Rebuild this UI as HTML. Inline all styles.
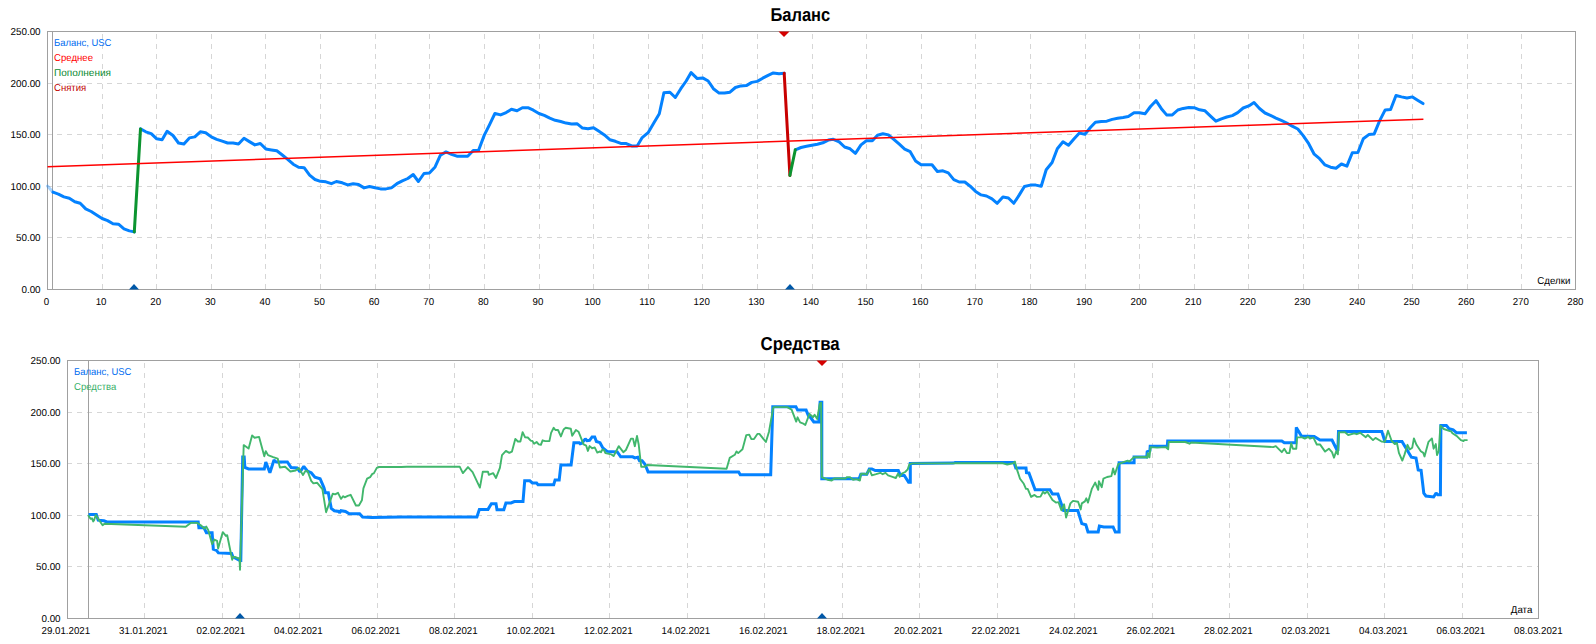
<!DOCTYPE html>
<html lang="ru"><head><meta charset="utf-8"><title>Баланс / Средства</title>
<style>
html,body{margin:0;padding:0;background:#fff;}
body{width:1596px;height:644px;overflow:hidden;font-family:"Liberation Sans", Arial, sans-serif;}
svg{display:block;}
text{font-family:"Liberation Sans", Arial, sans-serif;font-size:10px;fill:#000;text-rendering:geometricPrecision;}
.t{font-size:18.7px;font-weight:bold;fill:#000;text-anchor:middle;}
.g{stroke:#d6d6d6;stroke-width:1;stroke-dasharray:5 5;shape-rendering:crispEdges;fill:none;}
.b{stroke:#a0a0a0;stroke-width:1;shape-rendering:crispEdges;fill:none;}
.ln{fill:none;stroke-linejoin:round;stroke-linecap:round;}
.r{text-anchor:end;} .m{text-anchor:middle;} .n{font-size:9.9px;}
</style></head><body>
<svg width="1596" height="644" viewBox="0 0 1596 644">
<rect x="0" y="0" width="1596" height="644" fill="#fff"/>

<text class="t" x="800.3" y="21" textLength="59.8" lengthAdjust="spacingAndGlyphs">Баланс</text>
<line class="g" x1="102.5" y1="289" x2="102.5" y2="33" />
<line class="g" x1="156.5" y1="289" x2="156.5" y2="33" />
<line class="g" x1="211.5" y1="289" x2="211.5" y2="33" />
<line class="g" x1="265.5" y1="289" x2="265.5" y2="33" />
<line class="g" x1="320.5" y1="289" x2="320.5" y2="33" />
<line class="g" x1="375.5" y1="289" x2="375.5" y2="33" />
<line class="g" x1="429.5" y1="289" x2="429.5" y2="33" />
<line class="g" x1="484.5" y1="289" x2="484.5" y2="33" />
<line class="g" x1="539.5" y1="289" x2="539.5" y2="33" />
<line class="g" x1="593.5" y1="289" x2="593.5" y2="33" />
<line class="g" x1="648.5" y1="289" x2="648.5" y2="33" />
<line class="g" x1="702.5" y1="289" x2="702.5" y2="33" />
<line class="g" x1="757.5" y1="289" x2="757.5" y2="33" />
<line class="g" x1="812.5" y1="289" x2="812.5" y2="33" />
<line class="g" x1="866.5" y1="289" x2="866.5" y2="33" />
<line class="g" x1="921.5" y1="289" x2="921.5" y2="33" />
<line class="g" x1="975.5" y1="289" x2="975.5" y2="33" />
<line class="g" x1="1030.5" y1="289" x2="1030.5" y2="33" />
<line class="g" x1="1085.5" y1="289" x2="1085.5" y2="33" />
<line class="g" x1="1139.5" y1="289" x2="1139.5" y2="33" />
<line class="g" x1="1194.5" y1="289" x2="1194.5" y2="33" />
<line class="g" x1="1248.5" y1="289" x2="1248.5" y2="33" />
<line class="g" x1="1303.5" y1="289" x2="1303.5" y2="33" />
<line class="g" x1="1358.5" y1="289" x2="1358.5" y2="33" />
<line class="g" x1="1412.5" y1="289" x2="1412.5" y2="33" />
<line class="g" x1="1467.5" y1="289" x2="1467.5" y2="33" />
<line class="g" x1="1521.5" y1="289" x2="1521.5" y2="33" />
<line class="g" x1="47" y1="237.5" x2="1575" y2="237.5" />
<line class="g" x1="47" y1="186.5" x2="1575" y2="186.5" />
<line class="g" x1="47" y1="134.5" x2="1575" y2="134.5" />
<line class="g" x1="47" y1="83.5" x2="1575" y2="83.5" />
<rect class="b" x="47.5" y="31.5" width="1528" height="258"/>
<line class="b" x1="52.5" y1="31" x2="52.5" y2="289"/>
<text transform="translate(40.6 293.3) scale(0.985 1)" text-anchor="end">0.00</text>
<text transform="translate(40.6 241.3) scale(0.985 1)" text-anchor="end">50.00</text>
<text transform="translate(40.6 190.3) scale(0.985 1)" text-anchor="end">100.00</text>
<text transform="translate(40.6 138.3) scale(0.985 1)" text-anchor="end">150.00</text>
<text transform="translate(40.6 87.3) scale(0.985 1)" text-anchor="end">200.00</text>
<text transform="translate(40.6 35.3) scale(0.985 1)" text-anchor="end">250.00</text>
<text transform="translate(46.4 305.0) scale(0.97 1)" text-anchor="middle">0</text>
<text transform="translate(101.1 305.0) scale(0.97 1)" text-anchor="middle">10</text>
<text transform="translate(155.7 305.0) scale(0.97 1)" text-anchor="middle">20</text>
<text transform="translate(210.3 305.0) scale(0.97 1)" text-anchor="middle">30</text>
<text transform="translate(264.9 305.0) scale(0.97 1)" text-anchor="middle">40</text>
<text transform="translate(319.5 305.0) scale(0.97 1)" text-anchor="middle">50</text>
<text transform="translate(374.1 305.0) scale(0.97 1)" text-anchor="middle">60</text>
<text transform="translate(428.7 305.0) scale(0.97 1)" text-anchor="middle">70</text>
<text transform="translate(483.3 305.0) scale(0.97 1)" text-anchor="middle">80</text>
<text transform="translate(537.9 305.0) scale(0.97 1)" text-anchor="middle">90</text>
<text transform="translate(592.5 305.0) scale(0.97 1)" text-anchor="middle">100</text>
<text transform="translate(647.1 305.0) scale(0.97 1)" text-anchor="middle">110</text>
<text transform="translate(701.7 305.0) scale(0.97 1)" text-anchor="middle">120</text>
<text transform="translate(756.3 305.0) scale(0.97 1)" text-anchor="middle">130</text>
<text transform="translate(810.9 305.0) scale(0.97 1)" text-anchor="middle">140</text>
<text transform="translate(865.6 305.0) scale(0.97 1)" text-anchor="middle">150</text>
<text transform="translate(920.2 305.0) scale(0.97 1)" text-anchor="middle">160</text>
<text transform="translate(974.8 305.0) scale(0.97 1)" text-anchor="middle">170</text>
<text transform="translate(1029.4 305.0) scale(0.97 1)" text-anchor="middle">180</text>
<text transform="translate(1084.0 305.0) scale(0.97 1)" text-anchor="middle">190</text>
<text transform="translate(1138.6 305.0) scale(0.97 1)" text-anchor="middle">200</text>
<text transform="translate(1193.2 305.0) scale(0.97 1)" text-anchor="middle">210</text>
<text transform="translate(1247.8 305.0) scale(0.97 1)" text-anchor="middle">220</text>
<text transform="translate(1302.4 305.0) scale(0.97 1)" text-anchor="middle">230</text>
<text transform="translate(1357.0 305.0) scale(0.97 1)" text-anchor="middle">240</text>
<text transform="translate(1411.6 305.0) scale(0.97 1)" text-anchor="middle">250</text>
<text transform="translate(1466.2 305.0) scale(0.97 1)" text-anchor="middle">260</text>
<text transform="translate(1520.8 305.0) scale(0.97 1)" text-anchor="middle">270</text>
<text transform="translate(1575.4 305.0) scale(0.97 1)" text-anchor="middle">280</text>
<text transform="translate(1570.4 284.0) scale(0.97 1)" text-anchor="end">Сделки</text>
<text transform="translate(54.0 46.0) scale(0.945 1)" style="fill:#006cf0">Баланс, USC</text>
<text transform="translate(54.0 61.0) scale(0.96 1)" style="fill:#ff0000">Среднее</text>
<text transform="translate(54.0 76.0) scale(1.0 1)" style="fill:#088a30">Пополнения</text>
<text transform="translate(54.0 91.0) scale(0.955 1)" style="fill:#c00000">Снятия</text>
<polyline class="ln" points="47.5,186.1 53.0,192.2" stroke="#0482ff" stroke-width="3" opacity="0.35"/>
<polyline class="ln" points="53.0,192.2 58.4,194.1 63.9,196.9 69.3,198.3 74.8,201.8 80.2,203.3 85.7,208.9 91.2,211.5 96.6,215.0 102.1,218.5 107.6,220.6 113.0,223.7 118.5,224.2 124.0,228.9 129.4,230.9 134.3,231.9" stroke="#0482ff" stroke-width="3"/>
<polyline class="ln" points="140.5,128.9 145.8,131.8 151.2,133.6 156.7,138.8 162.1,139.7 167.1,131.3 173.0,135.5 178.5,143.0 183.9,144.0 189.4,137.9 194.8,136.9 200.3,131.8 205.7,132.7 211.3,136.9 216.7,139.3 222.2,141.2 227.6,143.0 233.1,143.0 238.5,144.0 244.0,138.3 249.4,141.6 254.9,144.9 260.3,143.5 265.8,148.9 271.4,149.9 276.8,150.8 282.3,155.0 287.7,159.3 293.2,164.2 298.6,167.3 304.1,167.7 309.6,175.2 315.0,179.5 320.4,181.3 325.9,181.8 331.4,183.7 336.4,181.5 342.3,182.8 347.7,184.9 353.2,183.7 358.6,184.6 364.1,187.9 369.5,186.5 375.1,187.7 380.5,188.9 386.0,188.9 391.4,187.9 396.9,183.7 402.3,180.9 407.8,178.5 413.2,174.5 418.4,181.5 424.0,173.5 429.4,173.1 435.1,166.9 440.4,155.2 446.0,151.9 451.5,154.3 456.9,156.2 462.3,156.2 467.7,156.2 473.2,150.5 478.5,150.5 484.3,135.1 489.7,124.3 494.9,113.5 500.6,114.9 506.1,112.6 511.4,109.3 517.0,110.7 522.4,107.7 527.9,107.7 533.4,110.2 538.9,113.5 544.3,115.4 549.8,118.2 555.2,120.3 560.7,121.5 566.1,123.1 571.6,124.0 577.0,123.7 582.5,128.1 588.0,128.7 593.5,127.8 599.0,131.3 604.4,134.9 609.8,139.7 615.4,141.3 620.8,143.4 626.3,143.6 631.7,145.9 637.2,145.9 642.2,137.6 648.1,132.7 653.5,123.6 659.3,113.8 663.9,92.8 669.9,92.2 675.3,97.5 680.8,88.7 686.2,81.0 691.1,72.6 697.3,78.6 702.7,77.9 708.2,81.0 713.4,88.7 719.1,93.1 724.5,93.1 730.0,92.2 735.4,87.5 740.9,85.9 746.3,85.6 751.8,82.4 757.2,81.4 762.7,78.2 768.1,75.4 773.3,72.9 779.0,73.7 784.2,73.3" stroke="#0482ff" stroke-width="3"/>
<polyline class="ln" points="795.3,149.8 801.0,147.5 806.5,146.3 811.9,145.2 817.4,144.2 822.8,142.8 828.3,140.1 833.3,139.3 839.2,141.9 844.6,147.0 850.1,148.8 855.4,153.3 861.0,144.9 866.4,140.8 872.3,140.8 877.5,135.2 882.9,133.8 888.4,134.9 893.8,139.3 899.3,144.2 904.7,149.1 910.2,151.7 915.6,161.0 921.1,164.8 926.5,164.8 932.0,164.8 937.4,171.5 942.9,170.8 948.3,172.9 953.8,179.6 959.2,182.0 964.8,182.0 970.2,186.2 975.6,191.4 981.1,194.9 986.5,196.0 992.0,198.8 997.2,203.3 1002.9,197.0 1008.4,198.0 1013.8,203.3 1019.3,194.9 1024.4,186.5 1030.3,185.1 1035.8,185.1 1041.2,186.2 1046.2,169.7 1052.1,162.5 1057.3,148.8 1063.0,141.8 1068.5,145.3 1073.9,139.0 1079.4,133.1 1085.0,134.2 1090.4,127.5 1095.4,122.2 1101.3,121.5 1106.8,121.2 1112.2,119.4 1117.7,118.3 1123.1,117.5 1128.3,116.6 1134.0,112.8 1139.5,112.8 1145.0,113.8 1150.5,106.5 1156.0,100.7 1161.4,108.7 1166.6,114.9 1172.3,114.9 1177.8,110.0 1183.2,108.4 1188.7,107.5 1194.1,107.7 1199.6,109.8 1205.0,110.8 1210.5,116.1 1215.9,121.2 1221.4,118.8 1226.8,117.0 1232.3,115.6 1237.7,112.6 1243.2,108.0 1248.8,105.9 1254.0,102.5 1259.5,108.5 1265.0,113.0 1270.4,115.3 1275.9,118.1 1281.3,120.4 1286.8,123.0 1292.2,126.2 1297.8,129.0 1303.2,135.6 1308.7,143.7 1314.2,154.2 1319.6,158.7 1325.0,164.9 1330.5,167.2 1336.0,168.2 1341.4,164.0 1346.9,166.1 1352.3,152.8 1357.9,152.5 1363.3,138.8 1368.8,134.6 1374.2,133.9 1379.7,120.6 1385.2,109.9 1390.6,109.5 1396.0,95.5 1401.5,96.9 1407.0,98.0 1412.5,96.9 1418.0,100.4 1423.0,103.6" stroke="#0482ff" stroke-width="3"/>
<polyline class="ln" points="134.3,231.9 140.5,128.9" stroke="#0c9430" stroke-width="3" stroke-linecap="butt"/>
<polyline class="ln" points="784.2,73.3 789.9,175.4" stroke="#c80000" stroke-width="3" stroke-linecap="butt"/>
<polyline class="ln" points="789.9,175.4 795.3,149.8" stroke="#0c9430" stroke-width="3" stroke-linecap="butt"/>
<line x1="47.5" y1="166.7" x2="1423.4" y2="119.2" stroke="#ff0000" stroke-width="1.5"/>
<polygon points="129,289.5 139,289.5 134,284.0" fill="#0058a8"/>
<polygon points="785,289.5 795,289.5 790,284.0" fill="#0058a8"/>
<polygon points="778.5,31.5 789.5,31.5 784,37.0" fill="#d40000"/>
<text class="t" x="800.1" y="350" textLength="79.2" lengthAdjust="spacingAndGlyphs">Средства</text>
<line class="g" x1="144.5" y1="618" x2="144.5" y2="362" />
<line class="g" x1="222.5" y1="618" x2="222.5" y2="362" />
<line class="g" x1="299.5" y1="618" x2="299.5" y2="362" />
<line class="g" x1="377.5" y1="618" x2="377.5" y2="362" />
<line class="g" x1="454.5" y1="618" x2="454.5" y2="362" />
<line class="g" x1="532.5" y1="618" x2="532.5" y2="362" />
<line class="g" x1="609.5" y1="618" x2="609.5" y2="362" />
<line class="g" x1="687.5" y1="618" x2="687.5" y2="362" />
<line class="g" x1="764.5" y1="618" x2="764.5" y2="362" />
<line class="g" x1="842.5" y1="618" x2="842.5" y2="362" />
<line class="g" x1="919.5" y1="618" x2="919.5" y2="362" />
<line class="g" x1="997.5" y1="618" x2="997.5" y2="362" />
<line class="g" x1="1074.5" y1="618" x2="1074.5" y2="362" />
<line class="g" x1="1152.5" y1="618" x2="1152.5" y2="362" />
<line class="g" x1="1229.5" y1="618" x2="1229.5" y2="362" />
<line class="g" x1="1307.5" y1="618" x2="1307.5" y2="362" />
<line class="g" x1="1384.5" y1="618" x2="1384.5" y2="362" />
<line class="g" x1="1462.5" y1="618" x2="1462.5" y2="362" />
<line class="g" x1="67" y1="566.5" x2="1538" y2="566.5" />
<line class="g" x1="67" y1="515.5" x2="1538" y2="515.5" />
<line class="g" x1="67" y1="463.5" x2="1538" y2="463.5" />
<line class="g" x1="67" y1="412.5" x2="1538" y2="412.5" />
<rect class="b" x="67.5" y="360.5" width="1471" height="258"/>
<line class="b" x1="88.5" y1="360" x2="88.5" y2="618"/>
<text transform="translate(60.6 622.3) scale(0.985 1)" text-anchor="end">0.00</text>
<text transform="translate(60.6 570.3) scale(0.985 1)" text-anchor="end">50.00</text>
<text transform="translate(60.6 519.3) scale(0.985 1)" text-anchor="end">100.00</text>
<text transform="translate(60.6 467.3) scale(0.985 1)" text-anchor="end">150.00</text>
<text transform="translate(60.6 416.3) scale(0.985 1)" text-anchor="end">200.00</text>
<text transform="translate(60.6 364.3) scale(0.985 1)" text-anchor="end">250.00</text>
<text transform="translate(65.8 634.0) scale(0.97 1)" text-anchor="middle">29.01.2021</text>
<text transform="translate(143.3 634.0) scale(0.97 1)" text-anchor="middle">31.01.2021</text>
<text transform="translate(220.8 634.0) scale(0.97 1)" text-anchor="middle">02.02.2021</text>
<text transform="translate(298.3 634.0) scale(0.97 1)" text-anchor="middle">04.02.2021</text>
<text transform="translate(375.8 634.0) scale(0.97 1)" text-anchor="middle">06.02.2021</text>
<text transform="translate(453.3 634.0) scale(0.97 1)" text-anchor="middle">08.02.2021</text>
<text transform="translate(530.8 634.0) scale(0.97 1)" text-anchor="middle">10.02.2021</text>
<text transform="translate(608.3 634.0) scale(0.97 1)" text-anchor="middle">12.02.2021</text>
<text transform="translate(685.8 634.0) scale(0.97 1)" text-anchor="middle">14.02.2021</text>
<text transform="translate(763.3 634.0) scale(0.97 1)" text-anchor="middle">16.02.2021</text>
<text transform="translate(840.8 634.0) scale(0.97 1)" text-anchor="middle">18.02.2021</text>
<text transform="translate(918.3 634.0) scale(0.97 1)" text-anchor="middle">20.02.2021</text>
<text transform="translate(995.8 634.0) scale(0.97 1)" text-anchor="middle">22.02.2021</text>
<text transform="translate(1073.3 634.0) scale(0.97 1)" text-anchor="middle">24.02.2021</text>
<text transform="translate(1150.8 634.0) scale(0.97 1)" text-anchor="middle">26.02.2021</text>
<text transform="translate(1228.3 634.0) scale(0.97 1)" text-anchor="middle">28.02.2021</text>
<text transform="translate(1305.8 634.0) scale(0.97 1)" text-anchor="middle">02.03.2021</text>
<text transform="translate(1383.3 634.0) scale(0.97 1)" text-anchor="middle">04.03.2021</text>
<text transform="translate(1460.8 634.0) scale(0.97 1)" text-anchor="middle">06.03.2021</text>
<text transform="translate(1538.3 634.0) scale(0.97 1)" text-anchor="middle">08.03.2021</text>
<text transform="translate(1532.3 613.0) scale(0.97 1)" text-anchor="end">Дата</text>
<text transform="translate(74.0 375.0) scale(0.945 1)" style="fill:#006cf0">Баланс, USC</text>
<text transform="translate(74.0 390.0) scale(0.955 1)" style="fill:#38b068">Средства</text>
<polyline class="ln" points="88.5,514.5 96.3,514.5 98.2,520.2 103.9,520.8 107.0,522.0 198.2,522.0 198.9,527.7 203.9,527.7 206.4,532.7 212.1,532.7 213.3,549.1 216.5,550.4 218.4,552.9 231.6,553.5 232.8,556.6 239.8,560.4 240.8,560.4 242.7,457.1 244.2,457.1 244.9,467.5 248.6,469.0 264.3,469.0 265.8,462.0 269.9,472.7 274.0,460.0 276.2,462.0 287.4,462.0 291.1,467.5 297.1,467.9 300.0,472.0 303.8,466.4 307.5,471.2 311.2,472.7 314.9,477.2 320.1,478.7 323.9,487.6 325.4,492.8 328.3,492.8 331.3,508.5 334.3,510.7 338.8,511.4 339.5,512.9 341.0,510.7 345.5,511.4 349.2,513.7 359.6,513.7 362.6,517.1 371.6,517.4 401.4,517.0 406.8,517.0 476.9,517.0 479.4,509.4 488.0,509.4 491.4,503.8 496.0,503.8 497.0,509.8 503.8,509.8 505.9,503.0 511.0,503.0 514.4,501.6 523.0,501.6 524.7,480.8 529.8,480.8 532.4,483.0 536.6,483.0 538.0,484.7 553.7,484.7 555.1,479.9 559.2,479.9 560.9,464.9 571.1,464.9 573.9,442.7 579.3,442.7 580.2,443.7 581.9,443.2 585.3,438.9 587.0,440.6 589.6,440.3 592.1,436.9 594.7,436.9 596.4,441.5 600.0,442.7 602.8,447.9 607.1,451.4 617.3,451.9 620.7,456.8 632.7,456.8 634.8,457.9 637.8,457.3 639.5,460.8 642.1,460.8 645.0,464.2 648.1,471.9 738.6,471.9 740.3,474.8 770.7,474.8 772.8,407.0 772.8,406.7 795.9,406.7 797.6,410.1 806.1,410.1 808.7,416.5 810.4,417.3 813.8,421.9 818.9,421.9 820.1,402.3 821.8,402.3 821.8,478.8 859.1,478.8 860.8,474.2 866.8,474.2 869.3,468.9 871.9,468.9 875.3,470.6 898.3,470.6 900.4,475.4 904.3,475.4 908.6,482.2 910.3,482.2 910.3,463.4 953.0,463.1 955.1,462.6 1014.0,462.6 1015.8,467.9 1026.0,467.9 1026.5,472.7 1028.9,473.0 1035.1,489.8 1049.9,489.8 1052.5,494.1 1057.9,494.1 1063.6,510.6 1077.8,510.6 1081.8,523.6 1085.8,524.8 1088.0,532.0 1098.2,532.0 1099.4,526.0 1103.7,527.0 1113.1,527.0 1115.3,532.0 1119.1,532.0 1119.1,462.8 1134.1,462.8 1134.1,457.0 1147.3,457.0 1146.8,456.8 1147.2,451.7 1149.9,450.5 1150.2,446.2 1167.3,446.2 1167.7,441.1 1281.8,441.1 1284.3,442.8 1295.8,442.8 1296.3,427.4 1301.4,436.0 1314.2,436.5 1320.0,440.1 1332.0,440.1 1336.7,449.5 1337.9,449.5 1338.5,431.6 1381.8,431.6 1384.9,441.5 1402.0,441.5 1411.4,457.2 1416.0,458.1 1418.2,470.0 1421.1,470.4 1423.8,493.1 1425.9,496.0 1433.6,497.0 1436.1,493.1 1437.8,494.8 1440.4,494.8 1440.9,425.6 1446.4,425.6 1449.0,428.7 1453.2,429.9 1456.6,432.8 1466.9,432.8" stroke="#0482ff" stroke-width="3" style="stroke-linejoin:miter;stroke-miterlimit:1.5;stroke-linecap:butt"/>
<polyline class="ln" points="88.5,515.8 90.7,518.9 92.0,518.3 93.2,521.4 94.1,520.2 95.7,515.1 102.6,525.2 104.5,523.7 185.7,526.7 190.7,522.9 197.0,522.9 200.8,525.2 204.5,528.7 206.2,526.5 208.3,530.2 212.1,544.1 214.3,539.6 217.1,540.9 218.1,548.5 222.8,532.1 225.9,535.9 227.2,535.2 232.2,559.8 233.2,556.6 239.5,558.5 240.0,569.8 243.7,445.1 248.6,448.6 252.1,435.4 254.6,437.7 259.1,436.9 264.3,456.3 265.8,451.1 268.0,455.1 273.2,457.1 277.7,458.6 279.9,467.5 285.1,466.7 290.4,471.5 295.6,470.5 298.8,467.9 303.0,474.9 305.2,471.2 307.5,470.9 311.2,480.9 313.4,483.4 317.2,482.8 322.4,489.1 326.1,512.2 332.8,493.6 335.1,494.3 338.0,492.8 341.0,498.8 343.2,496.2 344.7,497.3 347.7,495.8 350.7,494.8 355.9,505.5 358.9,505.5 361.9,500.3 363.4,488.4 367.1,478.7 370.1,477.2 372.3,473.9 373.8,473.4 376.8,467.9 379.0,467.0 401.4,467.0 406.8,466.8 459.8,466.8 462.9,473.1 468.0,467.1 472.6,472.2 479.9,487.6 482.8,471.7 488.0,471.7 488.8,474.8 493.1,473.1 496.0,477.9 499.9,467.9 502.0,455.1 505.9,450.9 509.3,452.9 511.9,451.7 515.3,438.9 517.9,441.5 520.4,441.5 522.6,432.1 525.0,437.2 527.8,437.5 530.7,440.6 532.4,441.0 534.1,443.7 536.6,442.0 538.7,444.4 540.9,444.9 542.6,440.3 545.2,441.1 549.4,441.1 551.1,432.9 553.7,427.8 555.4,430.0 558.0,430.0 560.9,436.4 563.6,429.5 565.7,427.8 570.8,428.7 572.2,435.8 575.9,430.0 578.5,431.7 583.6,444.4 586.2,445.7 587.9,450.9 589.6,446.1 592.1,448.3 594.7,447.4 597.3,452.6 600.0,451.4 601.1,452.2 602.3,449.6 604.0,450.0 605.4,453.1 611.4,454.4 613.6,456.1 618.7,446.2 623.3,452.2 625.9,450.0 631.0,438.6 633.0,438.6 634.8,446.2 637.0,436.0 638.7,444.5 641.2,466.7 644.6,466.7 647.2,465.0 726.6,468.8 729.7,457.9 734.8,454.8 736.5,451.4 738.2,453.1 742.5,449.3 746.3,435.1 749.2,434.6 751.4,439.1 754.0,439.1 757.4,433.9 759.4,433.9 765.9,442.0 769.0,431.7 773.1,408.3 773.7,407.1 787.3,407.1 791.6,409.6 796.2,421.6 797.6,417.3 800.1,422.4 802.7,423.3 805.3,425.0 809.5,413.9 813.0,417.3 814.6,414.8 817.2,419.0 819.8,403.7 821.1,402.8 821.8,477.1 827.5,479.7 831.7,480.5 834.3,478.5 845.4,478.5 847.1,477.1 849.7,477.1 853.1,479.7 856.5,479.1 859.9,480.5 861.1,473.7 864.2,473.7 866.8,474.5 867.9,471.6 869.3,469.4 871.9,475.4 876.1,474.2 880.4,472.8 882.6,474.2 885.5,472.8 888.1,475.4 893.2,477.1 895.8,478.0 898.0,473.7 899.7,476.8 901.8,473.7 905.2,472.0 907.7,469.4 909.4,464.3 912.0,463.4 953.0,463.4 955.1,463.3 1003.0,463.3 1007.2,464.5 1013.2,463.3 1014.9,461.6 1016.6,468.4 1020.0,478.7 1023.8,483.8 1026.0,488.9 1027.7,488.9 1031.1,496.9 1034.5,494.9 1037.1,496.9 1040.5,496.6 1043.1,491.8 1044.8,493.5 1047.3,491.5 1052.5,500.0 1055.9,502.6 1058.5,502.1 1061.4,510.3 1064.1,504.3 1066.1,517.5 1070.4,503.4 1073.0,500.9 1078.1,501.7 1080.7,509.4 1081.8,503.4 1084.9,501.4 1086.3,498.3 1088.0,502.6 1091.8,488.9 1095.2,482.6 1098.2,489.8 1098.9,481.2 1101.7,487.2 1103.4,478.7 1107.1,477.0 1111.4,476.1 1113.1,468.4 1114.8,474.4 1118.2,464.2 1127.6,460.7 1129.3,461.6 1133.6,457.3 1146.4,457.0 1147.2,457.9 1147.7,453.1 1149.4,457.3 1150.6,447.1 1157.1,447.6 1165.6,447.1 1168.2,449.3 1168.7,442.0 1185.3,442.0 1189.5,443.7 1191.2,442.5 1273.2,447.1 1275.8,446.2 1281.8,452.2 1284.3,448.8 1286.9,453.1 1289.4,453.1 1291.2,443.3 1292.9,448.8 1296.3,448.8 1297.1,437.4 1302.2,437.4 1304.8,438.6 1308.2,436.8 1309.9,438.6 1313.4,437.7 1316.8,444.5 1320.0,444.4 1325.1,451.6 1328.9,448.7 1332.0,452.1 1334.0,457.7 1336.2,451.2 1337.9,454.3 1338.8,432.4 1344.8,432.1 1348.2,435.0 1354.2,433.3 1356.7,434.2 1360.1,432.8 1365.8,437.2 1367.8,435.0 1373.0,440.1 1375.5,437.9 1381.5,441.5 1384.9,441.8 1388.0,430.7 1391.7,441.0 1394.8,444.1 1396.9,442.7 1398.9,452.9 1402.3,460.6 1404.5,454.6 1407.5,444.8 1409.7,449.5 1412.2,447.8 1413.9,438.4 1416.5,444.8 1420.8,451.2 1423.3,452.9 1424.5,456.4 1428.5,441.8 1431.9,438.4 1433.6,448.7 1435.8,444.1 1437.0,455.0 1438.7,451.2 1440.4,425.6 1443.8,429.0 1451.5,431.6 1452.4,433.3 1456.6,435.9 1460.9,440.1 1463.5,441.0 1464.3,440.1 1466.9,440.1" stroke="#41b76c" stroke-width="1.9"/>
<polygon points="235,618.5 245,618.5 240,613.0" fill="#0058a8"/>
<polygon points="817,618.5 827,618.5 822,613.0" fill="#0058a8"/>
<polygon points="816.5,360.5 827.5,360.5 822,366.0" fill="#d40000"/>
</svg></body></html>
